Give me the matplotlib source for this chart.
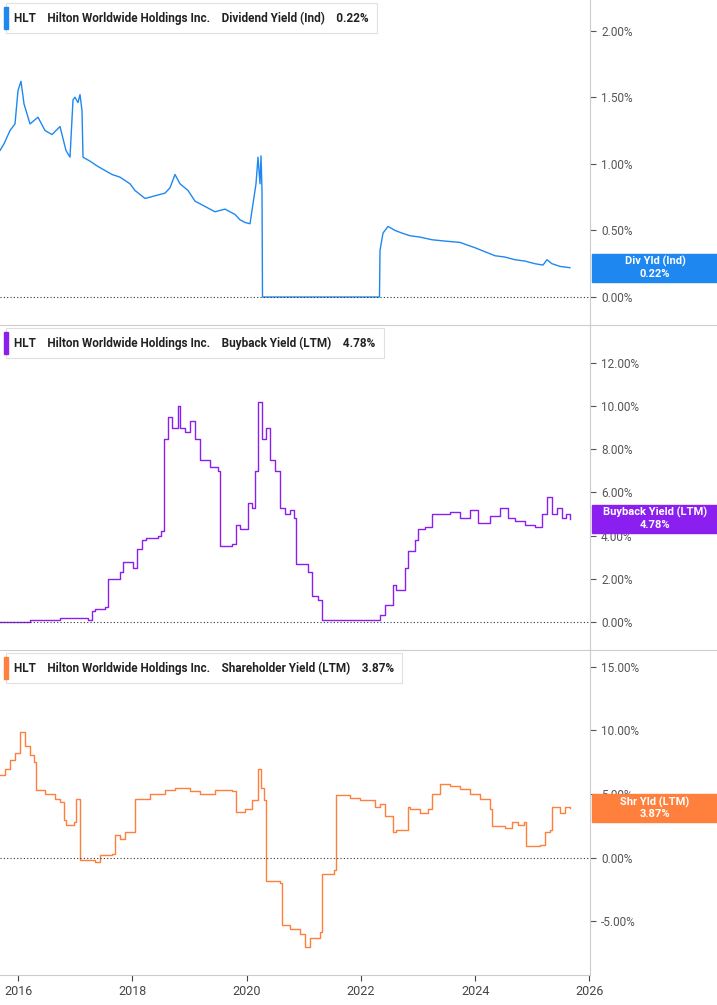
import matplotlib.pyplot as plt
import matplotlib.ticker as mticker

W, H = 717, 1005
PX = 57.1  # pixels per year
X0 = 2015.68


def yr(x):
    return X0 + x / PX


div_x = [0, 4, 10, 15, 18, 21, 24, 30, 38, 45, 52, 60, 66, 70, 73, 75, 78, 80, 82, 83, 90, 98, 105,
         112, 120, 130, 135, 145, 155, 165, 170, 175, 180, 188, 195, 205, 215, 225, 235, 240, 245, 250,
         253, 256, 258, 260, 261, 262, 262.5, 379.5, 380, 383, 388, 395, 402, 410, 420, 432, 445, 460,
         475, 485, 495, 505, 515, 525, 535, 543, 547, 552, 560, 570]
div_v = [1.10, 1.15, 1.25, 1.30, 1.55, 1.62, 1.45, 1.30, 1.35, 1.25, 1.22, 1.28, 1.10, 1.05, 1.48,
         1.50, 1.46, 1.52, 1.40, 1.05, 1.02, 0.98, 0.95, 0.92, 0.90, 0.85, 0.80, 0.74, 0.76, 0.78,
         0.82, 0.92, 0.85, 0.80, 0.72, 0.68, 0.64, 0.66, 0.62, 0.58, 0.56, 0.55, 0.70, 0.85, 1.05,
         0.85, 1.06, 0.80, 0.0, 0.0, 0.35, 0.48, 0.53, 0.50, 0.48, 0.46, 0.45, 0.43, 0.42, 0.41,
         0.37, 0.34, 0.31, 0.30, 0.28, 0.27, 0.25, 0.24, 0.28, 0.25, 0.23, 0.22]

bb_x = [0, 20, 30, 40, 60, 80, 88, 92, 95, 105, 108, 120, 123, 133, 137, 142, 146, 158, 161, 164,
        168, 172, 178, 180, 185, 190, 195, 200, 210, 218, 220, 232, 236, 240, 248, 252, 255, 258,
        262, 266, 270, 275, 280, 285, 290, 294, 296, 308, 312, 318, 322, 375, 380, 385, 393, 396,
        405, 408, 415, 418, 425, 432, 440, 450, 460, 470, 478, 490, 500, 508, 515, 525, 535, 542,
        547, 552, 557, 562, 566, 570]
bb_v = [0.0, 0.0, 0.1, 0.1, 0.2, 0.2, 0.1, 0.5, 0.6, 0.7, 2.0, 2.3, 2.8, 2.5, 3.4, 3.8, 3.9, 4.0,
        4.2, 8.5, 9.5, 9.0, 10.0, 9.0, 8.8, 9.3, 8.5, 7.5, 7.2, 7.0, 3.5, 3.6, 4.5, 4.3, 5.5,
        5.3, 7.0, 10.2, 8.5, 9.0, 7.5, 7.0, 5.3, 5.0, 5.2, 4.8, 2.7, 2.3, 1.2, 1.0, 0.1, 0.1, 0.3,
        0.8, 1.7, 1.5, 2.5, 3.3, 3.8, 4.3, 4.4, 5.0, 5.0, 5.1, 4.8, 5.2, 4.6, 4.9, 5.3, 4.8, 4.7,
        4.5, 4.4, 5.0, 5.8, 5.0, 5.3, 4.8, 5.0, 4.78]

sh_x = [0, 5, 10, 15, 20, 25, 30, 34, 36, 45, 55, 60, 64, 66, 74, 76, 80, 95, 100, 112, 115, 120,
        125, 135, 150, 165, 175, 190, 200, 215, 232, 236, 245, 252, 258, 261, 264, 266, 280, 282,
        290, 300, 305, 310, 320, 322, 334, 336, 350, 360, 375, 380, 385, 393, 396, 408, 410, 420,
        428, 432, 440, 450, 460, 470, 480, 490, 492, 505, 512, 518, 524, 526, 540, 545, 550, 552,
        560, 565, 570]
sh_v = [6.5, 7.0, 7.7, 8.2, 9.9, 8.8, 8.1, 7.5, 5.3, 5.0, 4.6, 4.4, 3.0, 2.6, 2.8, 4.6, -0.2, -0.3,
        0.2, 0.3, 1.8, 1.5, 2.0, 4.6, 5.0, 5.3, 5.5, 5.2, 5.0, 5.3, 5.2, 3.6, 3.8, 4.5, 7.0, 5.5,
        4.5, -1.8, -2.0, -5.3, -5.6, -6.0, -7.0, -6.3, -5.8, -1.3, -1.0, 4.9, 4.7, 4.5, 4.0, 4.2,
        3.3, 2.0, 2.2, 4.0, 3.8, 3.5, 3.8, 5.0, 5.8, 5.6, 5.4, 5.0, 4.6, 3.8, 2.5, 2.3, 2.8, 2.6,
        2.8, 0.9, 1.0, 2.0, 2.2, 4.0, 3.5, 4.0, 3.87]

TITLE = "Hilton Worldwide Holdings Inc."
panels = [
    dict(x=div_x, v=div_v, color="#1E88F0", name="Dividend Yield (Ind)", last="0.22%",
         tag="Div Yld (Ind)", ylim=(-0.21, 2.23), ticks=[0, 0.5, 1.0, 1.5, 2.0], step=False),
    dict(x=bb_x, v=bb_v, color="#8A1FEF", name="Buyback Yield (LTM)", last="4.78%",
         tag="Buyback Yield (LTM)", ylim=(-1.3, 13.76), ticks=[0, 2, 4, 6, 8, 10, 12], step=True),
    dict(x=sh_x, v=sh_v, color="#FF7F3C", name="Shareholder Yield (LTM)", last="3.87%",
         tag="Shr Yld (LTM)", ylim=(-9.2, 16.3), ticks=[-5, 0, 5, 10, 15], step=True),
]

plt.rcParams["font.family"] = "Roboto"
fig = plt.figure(figsize=(W / 100, H / 100), dpi=100)

tops = [0, 325, 650]
ph = 325
axw = 590
for i, p in enumerate(panels):
    ax = fig.add_axes([0, 1 - (tops[i] + ph) / H, axw / W, ph / H])
    xs = [yr(x) for x in p["x"]]
    ax.plot(xs, p["v"], color=p["color"], lw=1.0,
            drawstyle="steps-post" if p["step"] else "default")
    ax.axhline(0, color="#333333", lw=0.8, ls=(0, (1, 2)))
    ax.set_xlim(X0, X0 + axw / PX)
    ax.set_ylim(*p["ylim"])
    ax.yaxis.tick_right()
    ax.set_yticks(p["ticks"])
    ax.yaxis.set_major_formatter(mticker.FuncFormatter(lambda v, _: f"{v:.2f}%"))
    ax.tick_params(axis="y", labelsize=8.5, colors="#555555", length=4, pad=4)
    for s in ["left", "top"]:
        ax.spines[s].set_visible(False)
    ax.spines["right"].set_color("#cccccc")
    ax.spines["bottom"].set_visible(i == 2)
    ax.spines["bottom"].set_color("#cccccc")
    if i < 2:
        ax.set_xticks([])
    else:
        ax.set_xticks(range(2016, 2027, 2))
        ax.tick_params(axis="x", labelsize=9, colors="#444444", length=4)

    # header label
    ycen = 1 - (tops[i] + 18) / H
    t = fig.text(14 / W, ycen, f"HLT    {TITLE}    {p['name']}    {p['last']}",
                 fontsize=8.5, fontweight="bold", color="#222222", va="center", ha="left",
                 bbox=dict(boxstyle="square,pad=0.7", fc="white", ec="#e0e0e0", lw=0.8))
    fig.add_artist(plt.Rectangle((4 / W, ycen - 11 / H), 4 / W, 22 / H,
                                 transform=fig.transFigure, color=p["color"], zorder=5))

    # right value tag
    ylo, yhi = p["ylim"]
    last_v = p["v"][-1]
    yfig = 1 - (tops[i] + ph) / H + (last_v - ylo) / (yhi - ylo) * ph / H
    fig.add_artist(plt.Rectangle((592 / W, yfig - 14 / H), (W - 592) / W, 28 / H,
                                 transform=fig.transFigure, color=p["color"]))
    fig.text(655 / W, yfig + 6 / H, p["tag"], fontsize=8, fontweight="bold", color="white",
             ha="center", va="center")
    fig.text(655 / W, yfig - 6 / H, p["last"], fontsize=8, fontweight="bold", color="white",
             ha="center", va="center")

for y in [325, 650]:
    fig.add_artist(plt.Line2D([0, 1], [1 - y / H] * 2, transform=fig.transFigure,
                              color="#cccccc", lw=0.8))

fig.savefig("out.png", dpi=100)
